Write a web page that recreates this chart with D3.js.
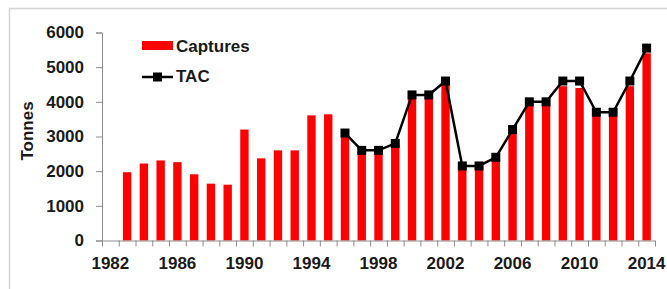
<!DOCTYPE html>
<html>
<head>
<meta charset="utf-8">
<script src="https://cdn.jsdelivr.net/npm/d3@7"></script>
<style>
  html, body { margin: 0; padding: 0; background: #fff; }
  svg { display: block; }
  text { font-family: "Liberation Sans", Arial, sans-serif; font-weight: bold; fill: #1a1a1a; }
</style>
</head>
<body>
<svg id="chart" width="667" height="289"></svg>
<script>
// ---- data ----
var years = d3.range(1982, 2015);
var captureYears = d3.range(1983, 2015);
var captures = [1970, 2220, 2310, 2260, 1910, 1640, 1610, 3200, 2370, 2600, 2600, 3610, 3640,
                3000, 2550, 2550, 2750, 4100, 4100, 4500, 2100, 2100, 2300, 3100, 3900, 3900,
                4450, 4400, 3600, 3600, 4450, 5400];
var tacYears = d3.range(1996, 2015);
var tac = [3100, 2600, 2600, 2800, 4200, 4200, 4600, 2150, 2150, 2400, 3200, 4000, 4000,
           4600, 4600, 3700, 3700, 4600, 5550];
var yTicks = [0, 1000, 2000, 3000, 4000, 5000, 6000];
var xLabels = [1982, 1986, 1990, 1994, 1998, 2002, 2006, 2010, 2014];

var svg = d3.select('#chart');
var axisCol = '#8c8c8c';

// outer frame (only top and left edges visible)
svg.append('rect')
  .attr('x', 9.5).attr('y', 8.5)
  .attr('width', 700).attr('height', 320)
  .attr('fill', 'none').attr('stroke', '#d4d4d4').attr('stroke-width', 1.5);

var x = d3.scaleBand().domain(years).range([102, 655]).padding(0);
var xEdge = d3.scaleLinear().domain([1982, 2015]).range([102, 655]);
var y = d3.scaleLinear().domain([0, 6000]).range([240.5, 32.5]);

// bars
var bw = x.bandwidth() * 0.5;
svg.append('g').selectAll('rect')
  .data(captureYears.map(function(d, i) { return {year: d, v: captures[i]}; }))
  .enter().append('rect')
  .attr('x', function(d) { return x(d.year) + (x.bandwidth() - bw) / 2; })
  .attr('y', function(d) { return y(d.v); })
  .attr('width', bw)
  .attr('height', function(d) { return y(0) - y(d.v); })
  .attr('fill', '#ff0000');

// y axis
var gy = svg.append('g').attr('transform', 'translate(102,0)')
  .call(d3.axisLeft(y).tickValues(yTicks).tickSize(6).tickPadding(12).tickFormat(d3.format('d')));
gy.select('.domain').attr('stroke', axisCol);
gy.selectAll('.tick line').attr('stroke', axisCol);
gy.selectAll('.tick text').style('font-size', '17px').style('fill', '#1a1a1a');

// x axis: ticks on category boundaries
var gx = svg.append('g').attr('transform', 'translate(0,' + y(0) + ')')
  .call(d3.axisBottom(xEdge).tickValues(d3.range(1982, 2016)).tickSize(6).tickFormat(''));
gx.select('.domain').attr('stroke', axisCol).attr('d', 'M102,0.5H655');
gx.selectAll('.tick line').attr('stroke', axisCol);

svg.append('g').selectAll('text')
  .data(xLabels).enter().append('text')
  .attr('x', function(d) { return x(d) + x.bandwidth() / 2; })
  .attr('y', 269)
  .attr('text-anchor', 'middle')
  .style('font-size', '17px')
  .text(function(d) { return d; });

// TAC line
var cx = function(d) { return x(d) + x.bandwidth() / 2; };
var tacData = tacYears.map(function(d, i) { return {year: d, v: tac[i]}; });
svg.append('path')
  .datum(tacData)
  .attr('d', d3.line().x(function(d) { return cx(d.year); }).y(function(d) { return y(d.v); }))
  .attr('fill', 'none').attr('stroke', '#000').attr('stroke-width', 2.5);
svg.append('g').selectAll('rect')
  .data(tacData).enter().append('rect')
  .attr('x', function(d) { return cx(d.year) - 4.5; })
  .attr('y', function(d) { return y(d.v) - 4.5; })
  .attr('width', 9).attr('height', 9)
  .attr('fill', '#000');

// y label
svg.append('text')
  .attr('transform', 'translate(33,131) rotate(-90)')
  .attr('text-anchor', 'middle')
  .style('font-size', '17px')
  .text('Tonnes');

// legend
var lg = svg.append('g');
lg.append('rect').attr('x', 142).attr('y', 41).attr('width', 31).attr('height', 9).attr('fill', '#ff0000');
lg.append('text').attr('x', 176).attr('y', 51.5).style('font-size', '17px').text('Captures');
lg.append('line').attr('x1', 142).attr('x2', 173).attr('y1', 77).attr('y2', 77)
  .attr('stroke', '#000').attr('stroke-width', 2.5);
lg.append('rect').attr('x', 153).attr('y', 72.5).attr('width', 9).attr('height', 9).attr('fill', '#000');
lg.append('text').attr('x', 176).attr('y', 81.5).style('font-size', '17px').text('TAC');
</script>
</body>
</html>
